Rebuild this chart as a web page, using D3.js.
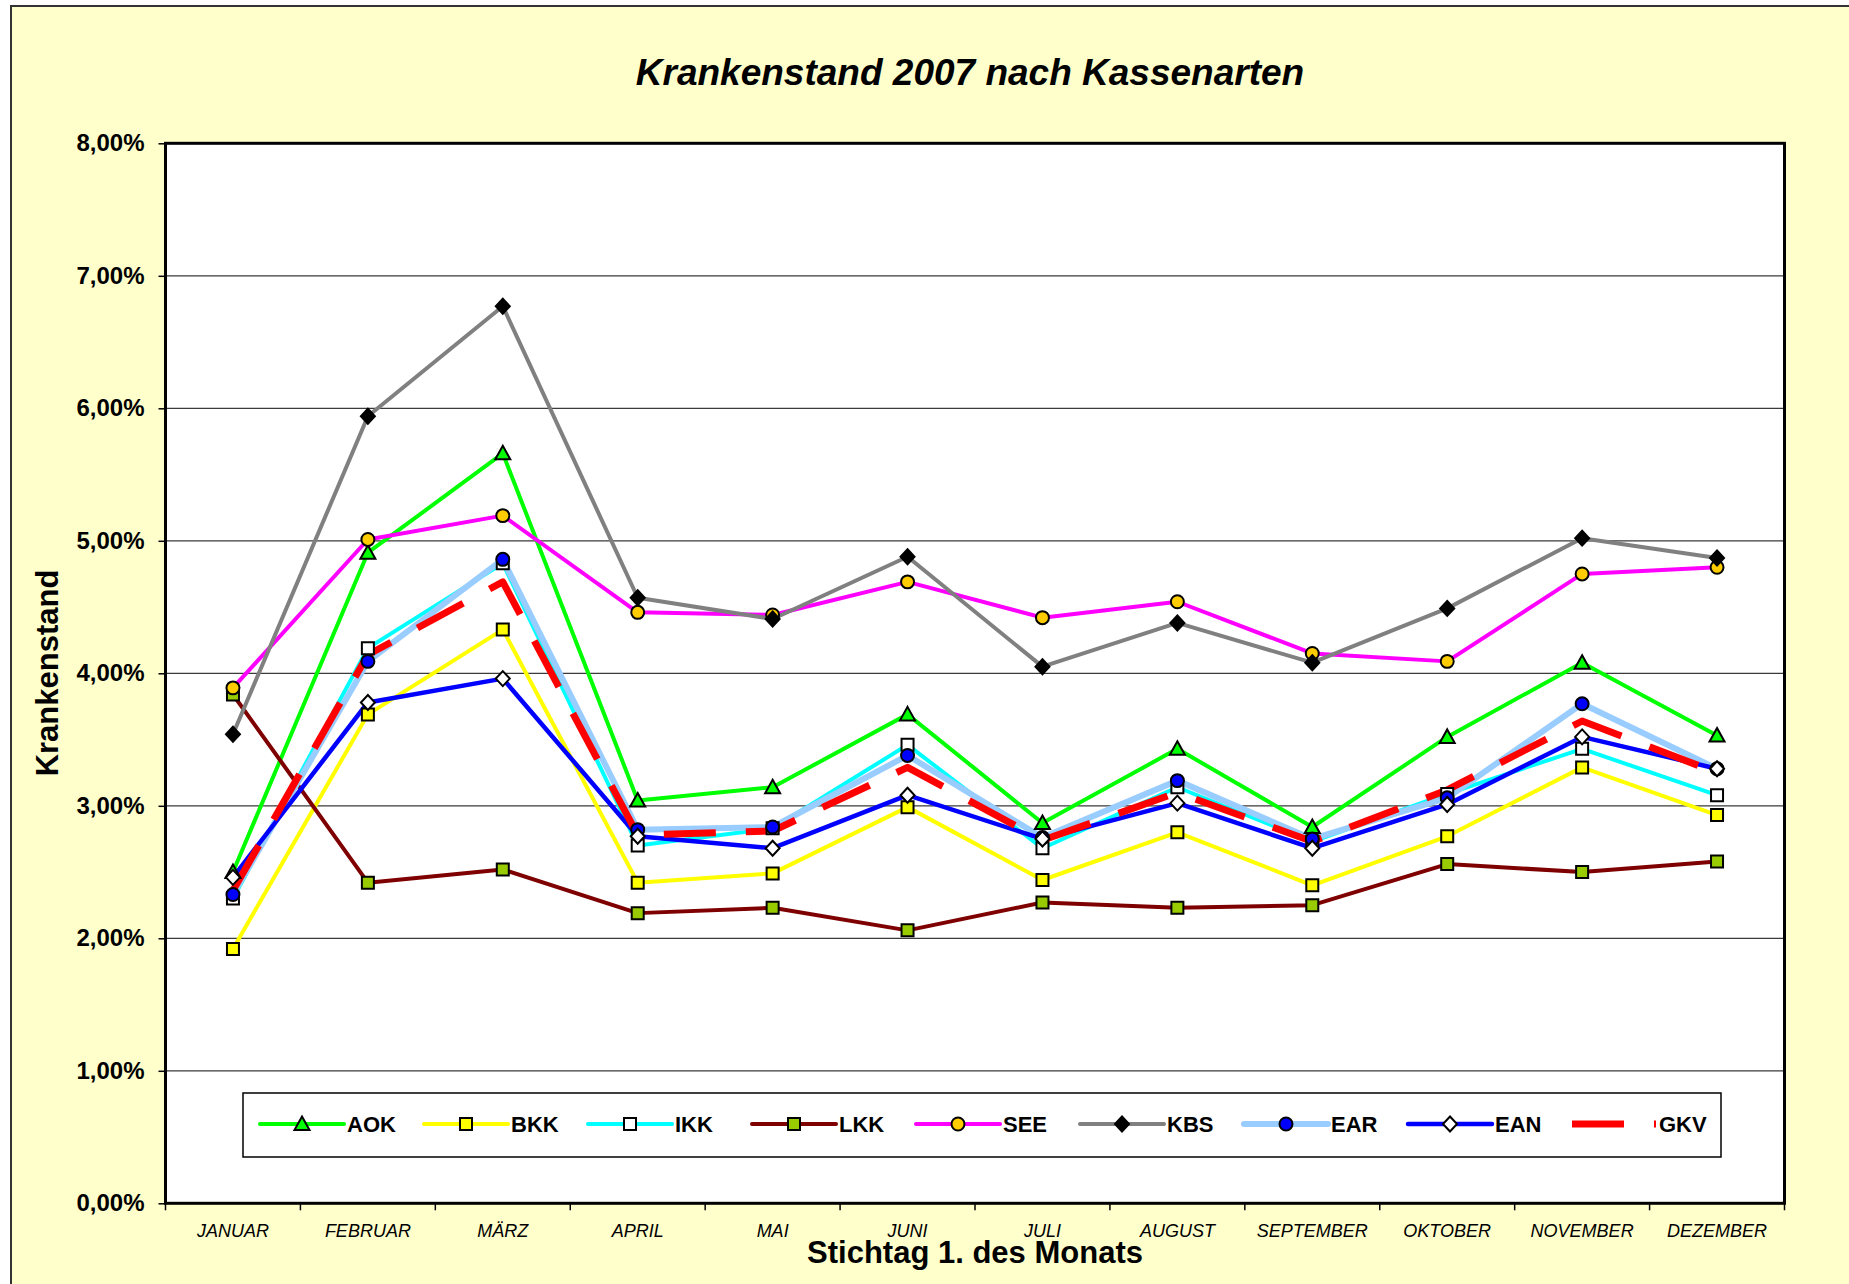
<!DOCTYPE html>
<html>
<head>
<meta charset="utf-8">
<script src="https://cdn.jsdelivr.net/npm/d3@7"></script>
<style>
  body { margin: 0; background: #fff; }
  svg text { font-family: "Liberation Sans", Arial, sans-serif; }
</style>
</head>
<body>
<div id="chart"></div>
<script>
// Krankenstand 2007 nach Kassenarten (in %)
var months = ["JANUAR", "FEBRUAR", "MÄRZ", "APRIL", "MAI", "JUNI", "JULI", "AUGUST", "SEPTEMBER", "OKTOBER", "NOVEMBER", "DEZEMBER"];
var yTicks = [0, 1, 2, 3, 4, 5, 6, 7, 8];

var aok = [2.50, 4.91, 5.66, 3.04, 3.14, 3.69, 2.87, 3.43, 2.84, 3.52, 4.08, 3.53];
var bkk = [1.92, 3.69, 4.33, 2.42, 2.49, 2.99, 2.44, 2.80, 2.40, 2.77, 3.29, 2.93];
var ikk = [2.30, 4.19, 4.83, 2.70, 2.83, 3.46, 2.68, 3.14, 2.73, 3.09, 3.43, 3.08];
var lkk = [3.84, 2.42, 2.52, 2.19, 2.23, 2.06, 2.27, 2.23, 2.25, 2.56, 2.50, 2.58];
var see = [3.89, 5.01, 5.19, 4.46, 4.44, 4.69, 4.42, 4.54, 4.15, 4.09, 4.75, 4.80];
var kbs = [3.54, 5.94, 6.77, 4.57, 4.41, 4.88, 4.05, 4.38, 4.08, 4.49, 5.02, 4.87];
var ear = [2.33, 4.09, 4.86, 2.82, 2.84, 3.38, 2.76, 3.19, 2.75, 3.06, 3.77, 3.28];
var ean = [2.46, 3.78, 3.96, 2.77, 2.68, 3.08, 2.75, 3.02, 2.68, 3.01, 3.52, 3.28];
var gkv = [2.36, 4.14, 4.69, 2.78, 2.81, 3.29, 2.74, 3.10, 2.73, 3.12, 3.64, 3.25];

var series = [
    { name: "AOK", values: aok, color: "#00ff00", width: 4, marker: "triangle", fill: "#00ff00" },
    { name: "BKK", values: bkk, color: "#ffff00", width: 4, marker: "square", fill: "#ffff00" },
    { name: "IKK", values: ikk, color: "#00ffff", width: 4, marker: "square", fill: "#ffffff" },
    { name: "LKK", values: lkk, color: "#7f0000", width: 4, marker: "square", fill: "#99cc00" },
    { name: "SEE", values: see, color: "#ff00ff", width: 4, marker: "circle", fill: "#ffcc00" },
    { name: "KBS", values: kbs, color: "#808080", width: 4, marker: "diamond", fill: "#000000" },
    { name: "EAR", values: ear, color: "#99ccff", width: 6, marker: "circle", fill: "#0000ff" },
    { name: "EAN", values: ean, color: "#0000ff", width: 4.5, marker: "diamond", fill: "#ffffff" },
    { name: "GKV", values: gkv, color: "#ff0000", width: 7, marker: null, dash: "52,30" }
];

var W = 1849, H = 1284;
var plotL = 165.5, plotR = 1784.5, plotT = 143.3, plotB = 1203.3;

var svg = d3.select("#chart")
    .append("svg")
    .attr("width", W)
    .attr("height", H);

// chart area
svg.append("rect")
    .attr("x", 11).attr("y", 6)
    .attr("width", W + 10).attr("height", H + 10)
    .attr("fill", "#ffffcc")
    .attr("stroke", "#333")
    .attr("stroke-width", 2);

// plot area
svg.append("rect")
    .attr("x", plotL).attr("y", plotT)
    .attr("width", plotR - plotL).attr("height", plotB - plotT)
    .attr("fill", "#fff");

var x = d3.scaleBand().domain(months).range([plotL, plotR]);
var y = d3.scaleLinear().domain([0, 8]).range([plotB, plotT]);
var px = function (i) { return x(months[i]) + x.bandwidth() / 2; };

var de = d3.formatLocale({ decimal: ",", thousands: ".", grouping: [3], currency: ["", " €"] });
var fmt = de.format(".2f");

// gridlines
svg.append("g")
    .selectAll("line")
    .data(yTicks.filter(function (d) { return d > 0 && d < 8; }))
    .enter().append("line")
    .attr("x1", plotL).attr("x2", plotR)
    .attr("y1", function (d) { return y(d); })
    .attr("y2", function (d) { return y(d); })
    .attr("stroke", "#3a3a3a")
    .attr("stroke-width", 1.2);

// y axis
var yAxis = svg.append("g")
    .attr("transform", "translate(" + plotL + ",0)")
    .call(d3.axisLeft(y).tickValues(yTicks).tickSize(7).tickPadding(14)
        .tickFormat(function (d) { return fmt(d) + "%"; }));
yAxis.select(".domain").remove();
yAxis.selectAll(".tick line").attr("stroke", "#000").attr("stroke-width", 1.5);
yAxis.selectAll("text")
    .attr("font-family", "Liberation Sans, Arial, sans-serif")
    .attr("font-size", 24).attr("font-weight", "bold").attr("fill", "#000");

// x axis (labels centred in the bands, ticks on the band edges)
var xAxis = svg.append("g")
    .attr("transform", "translate(0," + plotB + ")")
    .call(d3.axisBottom(x).tickSize(0).tickPadding(21));
xAxis.select(".domain").remove();
xAxis.selectAll("text")
    .attr("font-family", "Liberation Sans, Arial, sans-serif")
    .attr("font-size", 18).attr("font-style", "italic").attr("fill", "#000");

var edges = months.map(function (m) { return x(m); }).concat([plotR]);
svg.append("g")
    .selectAll("line")
    .data(edges)
    .enter().append("line")
    .attr("x1", function (d) { return d; }).attr("x2", function (d) { return d; })
    .attr("y1", plotB).attr("y2", plotB + 7)
    .attr("stroke", "#000").attr("stroke-width", 1.5);

// plot border
svg.append("rect")
    .attr("x", plotL).attr("y", plotT)
    .attr("width", plotR - plotL).attr("height", plotB - plotT)
    .attr("fill", "none")
    .attr("stroke", "#000")
    .attr("stroke-width", 3);

// lines
var line = d3.line()
    .x(function (d, i) { return px(i); })
    .y(function (d) { return y(d); });

svg.append("g")
    .selectAll("path")
    .data(series)
    .enter().append("path")
    .attr("d", function (s) { return line(s.values); })
    .attr("fill", "none")
    .attr("stroke", function (s) { return s.color; })
    .attr("stroke-width", function (s) { return s.width; })
    .attr("stroke-dasharray", function (s) { return s.dash || null; })
    .attr("stroke-linejoin", "round");

function markerPath(type) {
    if (type === "triangle") return "M0,-7.5L7.5,6L-7.5,6Z";
    if (type === "square") return "M-6,-6H6V6H-6Z";
    if (type === "diamond") return "M0,-7.5L7,0L0,7.5L-7,0Z";
    if (type === "circle") return d3.symbol(d3.symbolCircle, Math.PI * 42)();
    return "";
}

// markers
series.forEach(function (s) {
    if (!s.marker) return;
    svg.append("g")
        .selectAll("path")
        .data(s.values)
        .enter().append("path")
        .attr("transform", function (d, i) { return "translate(" + px(i) + "," + y(d) + ")"; })
        .attr("d", markerPath(s.marker))
        .attr("fill", s.fill)
        .attr("stroke", "#000")
        .attr("stroke-width", 2);
});

// legend
var legend = svg.append("g");
legend.append("rect")
    .attr("x", 243).attr("y", 1093)
    .attr("width", 1478).attr("height", 64)
    .attr("fill", "#fff")
    .attr("stroke", "#000")
    .attr("stroke-width", 1.5);

var items = legend.selectAll("g.item")
    .data(series)
    .enter().append("g")
    .attr("class", "item")
    .attr("transform", function (s, i) { return "translate(" + (260 + i * 164) + ",1124)"; });

items.append("line")
    .attr("x1", 0).attr("x2", 84)
    .attr("stroke", function (s) { return s.color; })
    .attr("stroke-width", function (s) { return s.dash ? 7 : s.width; })
    .attr("stroke-dasharray", function (s) { return s.dash || null; })
    .attr("stroke-linecap", function (s) { return s.dash ? "butt" : "round"; });

items.filter(function (s) { return s.marker; })
    .append("path")
    .attr("transform", "translate(42,0)")
    .attr("d", function (s) { return markerPath(s.marker); })
    .attr("fill", function (s) { return s.fill; })
    .attr("stroke", "#000")
    .attr("stroke-width", 2);

items.append("text")
    .attr("x", 87).attr("y", 8)
    .attr("font-size", 22).attr("font-weight", "bold")
    .text(function (s) { return s.name; });

// titles
svg.append("text")
    .attr("x", 970).attr("y", 85)
    .attr("text-anchor", "middle")
    .attr("font-size", 37).attr("font-weight", "bold").attr("font-style", "italic")
    .text("Krankenstand 2007 nach Kassenarten");

svg.append("text")
    .attr("transform", "translate(58,673) rotate(-90)")
    .attr("text-anchor", "middle")
    .attr("font-size", 31).attr("font-weight", "bold")
    .text("Krankenstand");

svg.append("text")
    .attr("x", 975).attr("y", 1263)
    .attr("text-anchor", "middle")
    .attr("font-size", 31).attr("font-weight", "bold")
    .text("Stichtag 1. des Monats");
</script>
</body>
</html>
